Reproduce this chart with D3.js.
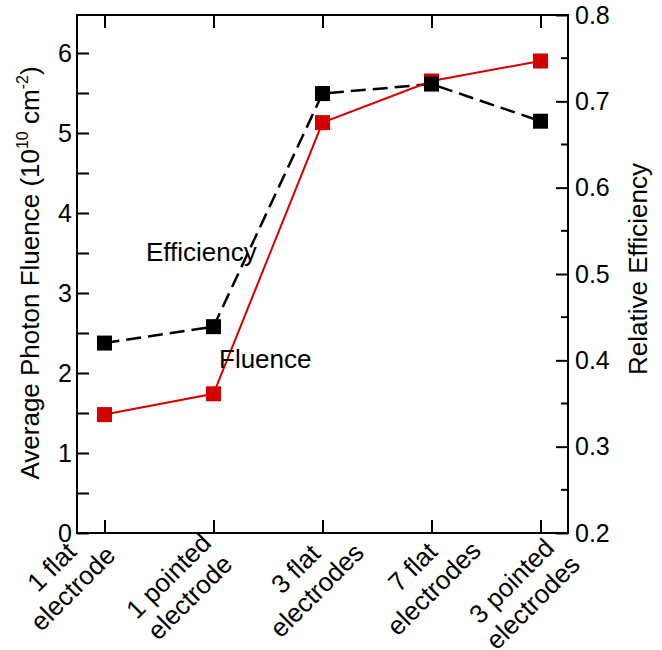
<!DOCTYPE html>
<html>
<head>
<meta charset="utf-8">
<script src="https://cdn.jsdelivr.net/npm/d3@7"></script>
<style>
  html, body { margin: 0; padding: 0; background: #fff; }
  svg text { font-family: "Liberation Sans", Arial, sans-serif; fill: #000; }
</style>
</head>
<body>
<svg id="chart" width="662" height="650"></svg>
<script>
// ---- data ----
const categories = ["1 flat|electrode", "1 pointed|electrode", "3 flat|electrodes", "7 flat|electrodes", "3 pointed|electrodes"];
const fluence = [1.48, 1.74, 5.13, 5.65, 5.90];
const efficiency = [0.420, 0.439, 0.709, 0.720, 0.677];
const leftTicks = [0, 1, 2, 3, 4, 5, 6];
const rightTicks = [0.2, 0.3, 0.4, 0.5, 0.6, 0.7, 0.8];

// ---- layout ----
const L = 77, R = 568, T = 15, B = 533;
const labelShift = [[-36, 51], [-28, 60], [-10, 53], [-2, 51], [-12, 65]];

const svg = d3.select("#chart");
const x = d3.scalePoint().domain(categories).range([L, R]).padding(0.252);
const yL = d3.scaleLinear().domain([0, (B - T) / 80]).range([B, T]);
const yR = d3.scaleLinear().domain([0.2, 0.8]).range([B, T]);

const red = "#d40000";
const FS = 26, TFS = 25;

// frame
svg.append("rect").attr("x", L).attr("y", T).attr("width", R - L).attr("height", B - T)
  .attr("fill", "none").attr("stroke", "#000").attr("stroke-width", 2);

// left axis
const leftAxis = d3.axisLeft(yL).tickValues(d3.range(0, 6.01, 0.5)).tickSize(-12)
  .tickFormat(d => leftTicks.includes(d) ? d3.format("d")(d) : "").tickPadding(5);
const gL = svg.append("g").attr("transform", `translate(${L},0)`).call(leftAxis);
gL.select(".domain").remove();
gL.selectAll("line").attr("stroke", "#000").attr("stroke-width", 2);
gL.selectAll("text").attr("font-size", TFS).attr("font-family", "Liberation Sans, Arial, sans-serif");

// right axis
const rMinor = d3.range(0.25, 0.8, 0.1);
const rightAxis = d3.axisRight(yR).tickValues(rightTicks).tickSize(-12)
  .tickFormat(d3.format(".1f")).tickPadding(7);
const gR = svg.append("g").attr("transform", `translate(${R},0)`).call(rightAxis);
gR.select(".domain").remove();
gR.selectAll("line").attr("stroke", "#000").attr("stroke-width", 2);
gR.selectAll("text").attr("font-size", TFS).attr("font-family", "Liberation Sans, Arial, sans-serif");
gR.selectAll(".minor").data(rMinor).enter().append("line")
  .attr("x1", 0).attr("x2", -7).attr("y1", d => yR(d)).attr("y2", d => yR(d))
  .attr("stroke", "#000").attr("stroke-width", 2);

// bottom & top ticks
const bottomAxis = d3.axisBottom(x).tickSize(-13).tickFormat("");
const gB = svg.append("g").attr("transform", `translate(0,${B})`).call(bottomAxis);
gB.select(".domain").remove();
gB.selectAll("line").attr("stroke", "#000").attr("stroke-width", 2);
const topAxis = d3.axisTop(x).tickSize(-13).tickFormat("");
const gT = svg.append("g").attr("transform", `translate(0,${T})`).call(topAxis);
gT.select(".domain").remove();
gT.selectAll("line").attr("stroke", "#000").attr("stroke-width", 2);

// category labels
categories.forEach((c, i) => {
  const [dx, dy] = labelShift[i];
  const g = svg.append("g").attr("transform", `translate(${x(c) + dx},${B + dy}) rotate(-45)`);
  c.split("|").forEach((line, j) => {
    g.append("text").attr("x", 0).attr("y", j === 0 ? -15 : 15)
      .attr("text-anchor", "middle").attr("font-size", FS).text(line);
  });
});

// efficiency (black dashed, right axis)
const lineE = d3.line().x((d, i) => x(categories[i])).y(d => yR(d));
svg.append("path").datum(efficiency).attr("d", lineE).attr("fill", "none")
  .attr("stroke", "#000").attr("stroke-width", 2.5).attr("stroke-dasharray", "15,7");

// fluence (red solid, left axis)
const lineF = d3.line().x((d, i) => x(categories[i])).y(d => yL(d));
svg.append("path").datum(fluence).attr("d", lineF).attr("fill", "none")
  .attr("stroke", red).attr("stroke-width", 2);

const ms = 15;
svg.selectAll(".mf").data(fluence).enter().append("rect")
  .attr("x", (d, i) => x(categories[i]) - ms / 2).attr("y", d => yL(d) - ms / 2)
  .attr("width", ms).attr("height", ms).attr("fill", red);
svg.selectAll(".me").data(efficiency).enter().append("rect")
  .attr("x", (d, i) => x(categories[i]) - ms / 2).attr("y", d => yR(d) - ms / 2)
  .attr("width", ms).attr("height", ms).attr("fill", "#000");

// series labels
svg.append("text").attr("x", 146).attr("y", 261).attr("font-size", FS).text("Efficiency");
svg.append("text").attr("x", 219).attr("y", 368).attr("font-size", FS).text("Fluence");

// axis titles
const tl = svg.append("text").attr("transform", "translate(39,273) rotate(-90)")
  .attr("text-anchor", "middle").attr("font-size", FS);
tl.append("tspan").text("Average Photon Fluence (10");
tl.append("tspan").attr("font-size", 16).attr("dy", -11).text("10");
tl.append("tspan").attr("dy", 11).text(" cm");
tl.append("tspan").attr("font-size", 16).attr("dy", -11).text("-2");
tl.append("tspan").attr("dy", 11).text(")");

svg.append("text").attr("transform", "translate(647,269) rotate(-90)")
  .attr("text-anchor", "middle").attr("font-size", FS).text("Relative Efficiency");
</script>
</body>
</html>
